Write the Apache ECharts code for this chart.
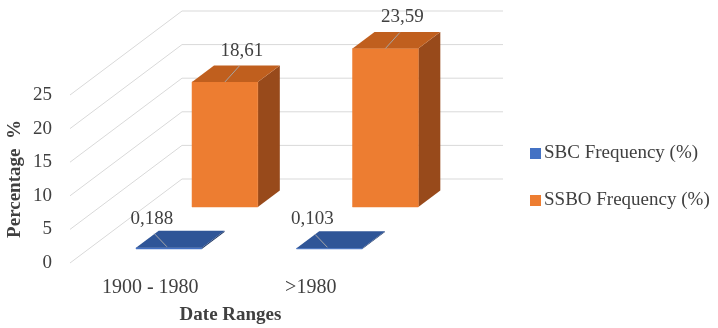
<!DOCTYPE html>
<html>
<head>
<meta charset="utf-8">
<script src="https://cdn.jsdelivr.net/npm/echarts@6/dist/echarts.min.js"></script>
<style>
  html, body { margin: 0; padding: 0; background: #fff; }
  #chart { width: 718px; height: 328px; }
</style>
</head>
<body>
<div id="chart"></div>
<script>
// chart data
var categories = ["1900 - 1980", ">1980"];
var sbcValues = [0.188, 0.103];
var ssboValues = [18.61, 23.59];
var yTicks = [0, 5, 10, 15, 20, 25];

var FONT = "Liberation Serif";
var TEXT = "#404040";
// 3D projection: shift of the whole depth (front plane -> back wall)
var DX = 112, DY = -84;

function shift(x, y, d) {
  return [x + DX * d, y + DY * d];
}

function fmt(v) {
  return String(v).replace(".", ",");
}

// one 3d column: front, top and right side faces + data label with leader
function barRenderer(d0, d1, c, lab) {
  return function (params, api) {
    var i = api.value(0), v = api.value(1);
    var top = api.coord([i, v]);
    var base = api.coord([i, 0]);
    var w = api.size([1, 0])[0] * 0.41;
    var xl = top[0] - w / 2, xr = top[0] + w / 2;
    var yt = top[1], yb = base[1];
    var front = [shift(xl, yt, d0), shift(xr, yt, d0), shift(xr, yb, d0), shift(xl, yb, d0)];
    var topF = [shift(xl, yt, d0), shift(xr, yt, d0), shift(xr, yt, d1), shift(xl, yt, d1)];
    var side = [shift(xr, yt, d0), shift(xr, yb, d0), shift(xr, yb, d1), shift(xr, yt, d1)];
    var a = shift(top[0], yt, d0);
    var lx = a[0] + lab[0], ly = a[1] + lab[1];
    return {
      type: "group",
      children: [
        { type: "polygon", shape: { points: side }, style: { fill: c.side } },
        { type: "polygon", shape: { points: front }, style: { fill: c.front, stroke: c.front, lineWidth: 0.5 } },
        { type: "polygon", shape: { points: topF }, style: { fill: c.top } },
        { type: "line", shape: { x1: a[0] + lab[2], y1: a[1] + lab[3], x2: a[0] + lab[0] * 0.85, y2: ly + 15 },
          style: { stroke: "#a6a6a6", lineWidth: 1 } },
        { type: "text", x: lx, y: ly,
          style: { text: fmt(v), fill: TEXT, font: "19px '" + FONT + "'", align: "center", verticalAlign: "middle" } }
      ]
    };
  };
}

var chart = echarts.init(document.getElementById("chart"));

var option = {
  animation: false,
  legend: {
    orient: "vertical",
    left: 530,
    top: 144,
    padding: 0,
    itemWidth: 11,
    itemHeight: 11,
    itemGap: 28,
    icon: "rect",
    data: ["SBC Frequency (%)", "SSBO Frequency (%)"],
    textStyle: { fontFamily: FONT, fontSize: 19, color: TEXT, padding: [0, 0, 0, -2] }
  },
  grid: { left: 70, top: 95, width: 321, height: 168, outerBoundsMode: "none", containLabel: false },
  xAxis: {
    type: "category",
    data: categories,
    axisLine: { show: false },
    axisTick: { show: false },
    axisLabel: { margin: 15, fontFamily: FONT, fontSize: 20, color: TEXT },
    name: "Date Ranges",
    nameLocation: "middle",
    nameGap: 43,
    nameTextStyle: { fontFamily: FONT, fontSize: 19, fontWeight: "bold", color: TEXT }
  },
  yAxis: {
    type: "value",
    min: 0,
    max: 25,
    interval: 5,
    splitLine: { show: false },
    axisLine: { show: false },
    axisLabel: { margin: 18, fontFamily: FONT, fontSize: 19, color: TEXT },
    name: "Percentage  %",
    nameLocation: "middle",
    nameRotate: 90,
    nameGap: 45,
    nameTextStyle: { fontFamily: FONT, fontSize: 19, fontWeight: "bold", color: TEXT }
  },
  series: [
    {
      // side wall diagonals + back wall gridlines
      type: "custom",
      name: "grid",
      silent: true,
      data: yTicks.map(function (t) { return [0, t]; }),
      renderItem: function (params, api) {
        var p0 = api.coord([0, api.value(1)]);
        var band = api.size([1, 0])[0];
        var left = p0[0] - band / 2;
        var xEnd = left + band * categories.length;
        var back = shift(left, p0[1], 1);
        var backEnd = shift(xEnd, p0[1], 1);
        var st = { stroke: "#d9d9d9", lineWidth: 1 };
        return {
          type: "group",
          children: [
            { type: "line", shape: { x1: left, y1: p0[1], x2: back[0], y2: back[1] }, style: st },
            { type: "line", shape: { x1: back[0], y1: back[1], x2: backEnd[0], y2: backEnd[1] }, style: st }
          ]
        };
      },
      z: 1
    },
    {
      type: "custom",
      name: "SSBO Frequency (%)",
      itemStyle: { color: "#ED7D31" },
      data: ssboValues.map(function (v, i) { return [i, v]; }),
      renderItem: barRenderer(56 / 84, 72.5 / 84,
        { front: "#ED7D31", top: "#C05F1E", side: "#984A1B" }, [17, -31, 0, 0]),
      z: 2
    },
    {
      type: "custom",
      name: "SBC Frequency (%)",
      itemStyle: { color: "#4472C4" },
      data: sbcValues.map(function (v, i) { return [i, v]; }),
      renderItem: barRenderer(14 / 84, 31 / 84,
        { front: "#4472C4", top: "#2F5597", side: "#203864" }, [-17, -29, -2, -1]),
      z: 3
    }
  ]
};

chart.setOption(option);
</script>
</body>
</html>
